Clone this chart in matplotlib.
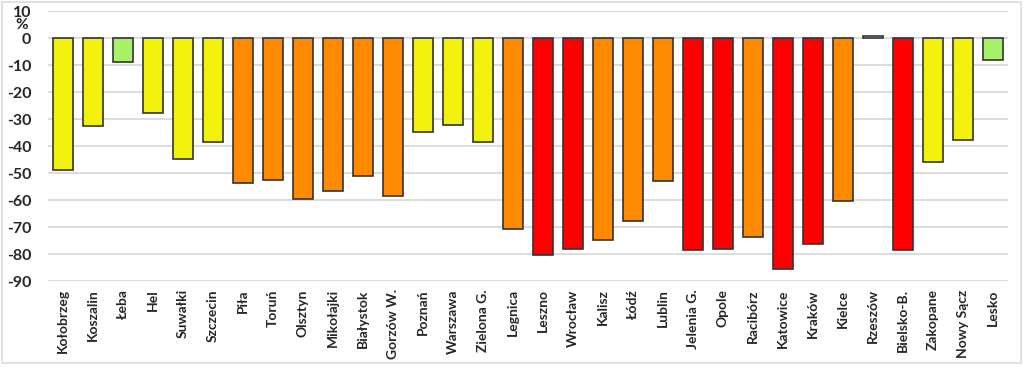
import matplotlib
matplotlib.use("Agg")
import matplotlib.pyplot as plt
from matplotlib.patches import Rectangle

cities = ["Kołobrzeg", "Koszalin", "Łeba", "Hel", "Suwałki", "Szczecin", "Piła", "Toruń",
          "Olsztyn", "Mikołajki", "Białystok", "Gorzów W.", "Poznań", "Warszawa", "Zielona G.",
          "Legnica", "Leszno", "Wrocław", "Kalisz", "Łódź", "Lublin", "Jelenia G.", "Opole",
          "Racibórz", "Katowice", "Kraków", "Kielce", "Rzeszów", "Bielsko-B.", "Zakopane",
          "Nowy Sącz", "Lesko"]
values = [-48.8, -32.7, -8.9, -27.7, -44.8, -38.4, -53.5, -52.5,
          -59.5, -56.8, -51.2, -58.6, -34.9, -32.0, -38.5,
          -70.6, -80.5, -78.0, -74.7, -67.8, -53.0, -78.4, -78.0,
          -73.8, -85.7, -76.4, -60.3, 0.8, -78.6, -45.9,
          -37.9, -8.1]
classes = ["Y", "Y", "G", "Y", "Y", "Y", "O", "O",
           "O", "O", "O", "O", "Y", "Y", "Y",
           "O", "R", "R", "O", "O", "O", "R", "R",
           "O", "R", "R", "O", "W", "R", "Y",
           "Y", "G"]
yticks = [10, 0, -10, -20, -30, -40, -50, -60, -70, -80, -90]

palette = {"Y": "#f2f20c", "G": "#a8f26a", "O": "#ff8a00", "R": "#ff0000", "W": "#ffffff"}

plt.rcParams['font.family'] = ['Lato', 'DejaVu Sans']

fig = plt.figure(figsize=(10.24, 3.73), dpi=100)
ax = fig.add_axes([0.0469, 0.2466, 0.984 - 0.0469, 0.9697 - 0.2466])

x = range(len(cities))
ax.bar(x, values, width=0.67, color=[palette[c] for c in classes],
       edgecolor="#333333", linewidth=1.2, zorder=3)

ax.set_xlim(-0.5, len(cities) - 0.5)
ax.set_ylim(-90, 10)
ax.set_yticks(yticks)
ax.set_yticklabels([str(t) for t in yticks], fontsize=11.5, fontweight="bold", color="#262626")
ax.set_xticks(list(x))
ax.set_xticklabels(cities, rotation=90, fontsize=10, fontweight="bold", color="#262626",
                   va="top", ha="center")
ax.tick_params(axis="both", length=0)
ax.tick_params(axis="y", pad=12)
ax.tick_params(axis="x", pad=6)
ax.grid(axis="y", color="#dcdcdc", linewidth=1.4, zorder=0)
for s in ax.spines.values():
    s.set_visible(False)

fig.text(22 / 1024, 1 - 25 / 373, "%", fontsize=11, fontweight="bold", color="#262626",
         ha="center", va="center")

fig.patches.append(Rectangle((2 / 1024, 10 / 373), 1019 / 1024, 361 / 373,
                             transform=fig.transFigure, fill=False,
                             edgecolor="#dcdcdc", linewidth=1.2))

fig.savefig("out.png", dpi=100)
